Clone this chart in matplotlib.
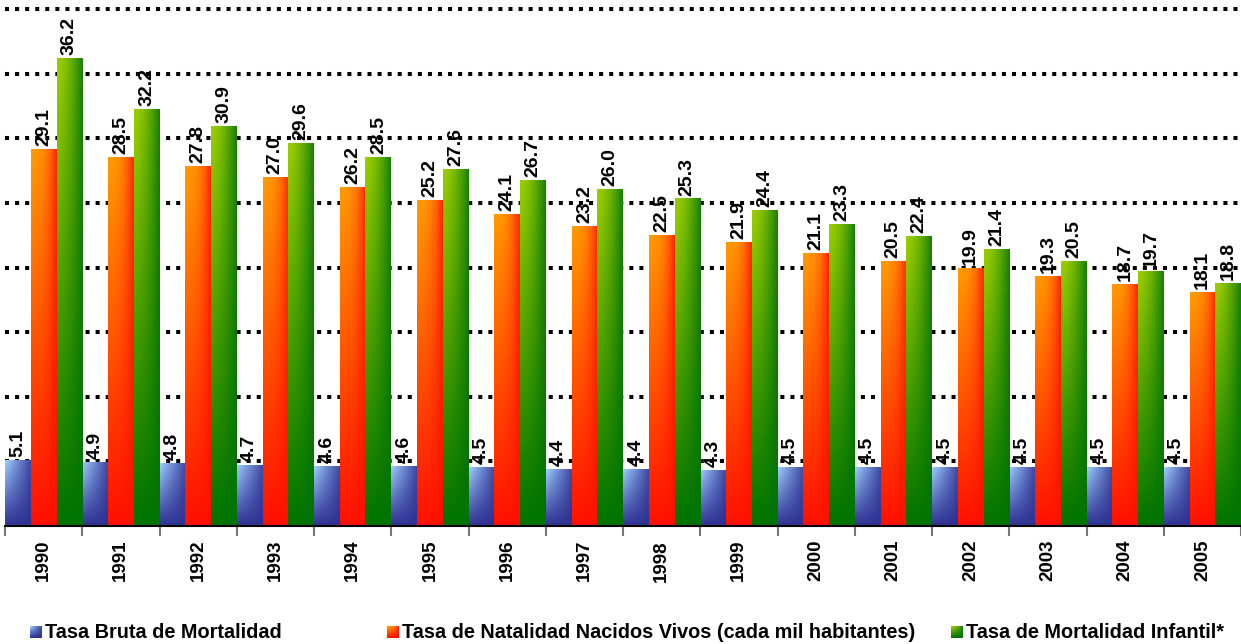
import numpy as np
import matplotlib
matplotlib.use("Agg")
import matplotlib.pyplot as plt
from matplotlib.colors import to_rgb

years = ["1990", "1991", "1992", "1993", "1994", "1995", "1996", "1997",
         "1998", "1999", "2000", "2001", "2002", "2003", "2004", "2005"]

mortalidad_bruta = [5.1, 4.9, 4.8, 4.7, 4.6, 4.6, 4.5, 4.4,
                    4.4, 4.3, 4.5, 4.5, 4.5, 4.5, 4.5, 4.5]
natalidad = [29.1, 28.5, 27.8, 27.0, 26.2, 25.2, 24.1, 23.2,
             22.5, 21.9, 21.1, 20.5, 19.9, 19.3, 18.7, 18.1]
mortalidad_infantil = [36.2, 32.2, 30.9, 29.6, 28.5, 27.6, 26.7, 26.0,
                       25.3, 24.4, 23.3, 22.4, 21.4, 20.5, 19.7, 18.8]

series_names = ["Tasa Bruta de Mortalidad",
                "Tasa de Natalidad Nacidos Vivos (cada mil habitantes)",
                "Tasa de Mortalidad Infantil*"]

# light (top-left) -> dark (right / bottom) colour of each series
gradients = [("#9fcfff", "#2e3192"),
             ("#ff9a00", "#ff1000"),
             ("#9acd00", "#007300")]

plt.rcParams["font.family"] = ["Liberation Sans", "DejaVu Sans"]


def gradient_image(light, dark, power, nx=40, ny=120):
    u = np.linspace(0, 1, nx)[None, :] ** power
    v = np.linspace(0, 1, ny)[:, None]
    t = 1 - (1 - 0.85 * u) * (1 - v)
    c0 = np.array(to_rgb(light))
    c1 = np.array(to_rgb(dark))
    return c0 * (1 - t[..., None]) + c1 * t[..., None]


fig = plt.figure(figsize=(12.41, 6.44), dpi=100)
ax = fig.add_axes([5 / 1241, 1 - 526 / 644, 1236 / 1241, 517 / 644])

x = np.arange(len(years))
width = 1 / 3
powers = [1.0, 2.5, 1.6]

for i, values in enumerate([mortalidad_bruta, natalidad, mortalidad_infantil]):
    bars = ax.bar(x + (i - 1) * width, values, width, color="none",
                  edgecolor="none", zorder=2)
    img = gradient_image(gradients[i][0], gradients[i][1], powers[i])
    for bar, val in zip(bars, values):
        x0 = bar.get_x()
        ax.imshow(img, extent=[x0, x0 + bar.get_width(), 0, bar.get_height()],
                  aspect="auto", zorder=2, interpolation="bilinear")
        ax.annotate(f"{val:.1f}", (x0 + bar.get_width() / 2, val),
                    xytext=(0, 2.5), textcoords="offset points",
                    rotation=90, ha="center", va="bottom", fontsize=14,
                    fontweight="bold", zorder=3)

ax.set_xlim(-0.5, len(years) - 0.5)
ax.set_ylim(0, 40)
ax.set_yticks(np.arange(5, 41, 5))
ax.yaxis.grid(True, color="black", linestyle=(0, (1, 1.5)), linewidth=2.9)
for line in ax.get_ygridlines():
    line.set_clip_on(False)
ax.set_axisbelow(True)
ax.tick_params(axis="y", left=False, labelleft=False)

for side in ["left", "right", "top"]:
    ax.spines[side].set_visible(False)
ax.spines["bottom"].set_linewidth(1.5)

ax.set_xticks(x)
ax.set_xticklabels(years, rotation=90, fontsize=13.5, fontweight="bold")
ax.tick_params(axis="x", length=0, pad=10)
ax.set_xticks(np.arange(-0.5, len(years), 1), minor=True)
ax.tick_params(axis="x", which="minor", length=7, width=1.5, color="#777777")

# legend drawn along the bottom of the figure
legend_x = [30, 387, 951]
for i, name in enumerate(series_names):
    sq = fig.add_axes([legend_x[i] / 1241, 1 - 638 / 644, 12 / 1241, 12 / 644])
    sq.imshow(gradient_image(gradients[i][0], gradients[i][1], powers[i], 20, 20),
              aspect="auto", interpolation="bilinear")
    sq.axis("off")
    fig.text((legend_x[i] + 15) / 1241, 1 - 632 / 644, name, fontsize=14.3,
             fontweight="bold", va="center", ha="left")

fig.savefig("out.png", dpi=100)
